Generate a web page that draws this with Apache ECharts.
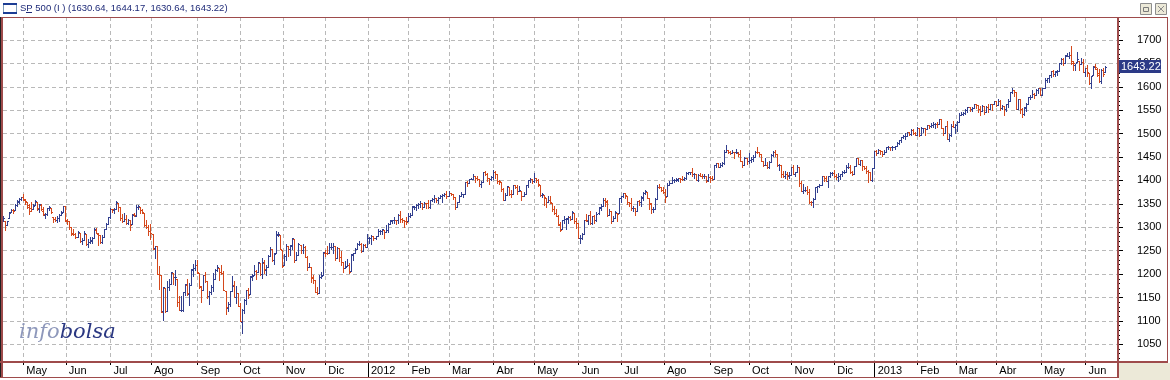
<!DOCTYPE html>
<html><head><meta charset="utf-8">
<script src="https://cdn.jsdelivr.net/npm/echarts/dist/echarts.min.js"></script>
<style>html,body{margin:0;padding:0;background:#fff;overflow:hidden}#c{width:1170px;height:380px}</style>
</head><body><div id="c"></div>
<script>
// ---- DATA: daily bars [open, high, low, close], one array per month ----
const m1104=[[1314,1323,1314,1320],[1313,1313,1295,1305],[1305,1313,1304,1313],[1319,1333,1319,1330],[1333,1338,1332,1337],[1337,1338,1331,1335],[1336,1349,1336,1347],[1348,1358,1345,1356],[1354,1362,1351,1360],[1360,1365,1359,1364]];
const m1105=[[1365,1371,1358,1361],[1359,1360,1349,1357],[1355,1355,1341,1347],[1344,1349,1329,1335],[1341,1354,1334,1340],[1340,1349,1338,1346],[1348,1359,1348,1357],[1355,1355,1336,1342],[1339,1349,1333,1349],[1347,1350,1336,1338],[1335,1343,1327,1329],[1326,1330,1319,1329],[1328,1342,1327,1341],[1342,1346,1337,1344],[1342,1342,1330,1333],[1321,1321,1312,1317],[1318,1321,1314,1316],[1315,1325,1311,1320],[1320,1328,1314,1326],[1326,1335,1326,1331],[1332,1346,1332,1345]];
const m1106=[[1345,1345,1313,1315],[1314,1318,1306,1313],[1313,1313,1297,1300],[1300,1300,1284,1286],[1287,1297,1284,1285],[1285,1288,1277,1280],[1280,1293,1280,1289],[1288,1288,1268,1271],[1271,1277,1265,1272],[1273,1292,1273,1288],[1286,1286,1262,1265],[1265,1274,1258,1268],[1269,1280,1267,1272],[1271,1280,1267,1278],[1278,1298,1278,1296],[1295,1299,1287,1287],[1286,1287,1262,1284],[1283,1284,1267,1268],[1268,1284,1267,1280],[1280,1297,1280,1297],[1297,1310,1297,1307],[1308,1322,1308,1321]];
const m1107=[[1321,1341,1319,1340],[1340,1340,1333,1338],[1337,1341,1331,1339],[1340,1356,1340,1353],[1352,1352,1334,1344],[1343,1343,1316,1319],[1319,1328,1312,1314],[1314,1331,1314,1318],[1318,1327,1306,1309],[1309,1318,1307,1316],[1315,1316,1295,1305],[1307,1328,1307,1327],[1328,1330,1324,1326],[1325,1347,1324,1344],[1344,1347,1338,1345],[1344,1344,1331,1337],[1337,1338,1331,1332],[1331,1331,1303,1305],[1305,1316,1299,1301],[1300,1304,1283,1292]];
const m1108=[[1292,1308,1275,1287],[1286,1286,1254,1254],[1255,1261,1235,1260],[1260,1260,1200,1200],[1201,1218,1168,1199],[1199,1199,1119,1119],[1121,1173,1102,1173],[1171,1171,1118,1121],[1121,1186,1121,1173],[1173,1190,1165,1179],[1179,1205,1179,1204],[1202,1202,1178,1193],[1193,1209,1177,1194],[1190,1190,1131,1141],[1140,1154,1123,1124],[1124,1154,1121,1124],[1124,1162,1121,1162],[1162,1178,1156,1178],[1177,1190,1155,1159],[1158,1182,1135,1177],[1177,1210,1177,1210],[1209,1221,1195,1213],[1213,1230,1209,1219]];
const m1109=[[1219,1230,1203,1204],[1203,1203,1171,1174],[1173,1174,1140,1165],[1166,1199,1166,1199],[1198,1204,1184,1186],[1185,1185,1148,1154],[1153,1163,1137,1162],[1162,1177,1158,1173],[1173,1203,1163,1189],[1189,1210,1189,1209],[1209,1220,1207,1216],[1214,1214,1188,1204],[1204,1220,1201,1202],[1203,1207,1166,1167],[1164,1164,1114,1130],[1128,1141,1121,1136],[1137,1163,1131,1163],[1164,1195,1164,1175],[1176,1185,1150,1151],[1152,1175,1139,1160],[1159,1159,1131,1131]];
const m1110=[[1131,1138,1099,1099],[1097,1125,1075,1124],[1124,1146,1116,1144],[1144,1165,1136,1165],[1166,1171,1149,1155],[1158,1195,1158,1195],[1194,1200,1187,1196],[1197,1220,1197,1207],[1206,1208,1190,1204],[1205,1225,1205,1225],[1224,1224,1198,1201],[1200,1234,1191,1225],[1223,1230,1203,1210],[1209,1219,1197,1215],[1215,1240,1215,1238],[1238,1257,1238,1254],[1254,1254,1227,1229],[1230,1246,1221,1242],[1244,1293,1244,1285],[1284,1290,1281,1285],[1284,1284,1253,1253]];
const m1111=[[1251,1251,1215,1218],[1219,1242,1219,1238],[1238,1264,1229,1261],[1260,1260,1238,1253],[1253,1262,1240,1261],[1262,1277,1254,1276],[1275,1275,1226,1229],[1230,1247,1230,1240],[1240,1266,1240,1264],[1263,1263,1246,1252],[1251,1264,1244,1258],[1257,1259,1236,1237],[1236,1238,1209,1216],[1216,1224,1215,1216],[1216,1216,1183,1193],[1192,1197,1181,1188],[1188,1188,1161,1162],[1162,1172,1158,1159],[1159,1197,1159,1193],[1193,1204,1191,1195],[1197,1247,1197,1247]];
const m1112=[[1246,1251,1239,1245],[1246,1261,1243,1244],[1245,1266,1245,1257],[1258,1266,1254,1258],[1257,1267,1244,1261],[1260,1260,1231,1234],[1235,1258,1235,1255],[1255,1255,1227,1236],[1237,1250,1219,1226],[1226,1226,1205,1212],[1213,1227,1212,1216],[1217,1232,1217,1220],[1220,1224,1203,1205],[1206,1242,1206,1241],[1242,1245,1229,1244],[1244,1255,1244,1254],[1254,1266,1254,1265],[1265,1270,1262,1265],[1265,1266,1248,1250],[1250,1264,1250,1263],[1263,1264,1257,1258]];
const m1201=[[1258,1285,1258,1277],[1277,1279,1266,1277],[1277,1284,1265,1281],[1281,1282,1273,1278],[1278,1282,1275,1281],[1281,1297,1281,1292],[1292,1294,1285,1292],[1292,1297,1286,1296],[1295,1295,1278,1289],[1290,1304,1290,1294],[1294,1309,1290,1308],[1308,1316,1308,1315],[1314,1315,1310,1315],[1315,1322,1309,1316],[1316,1316,1306,1315],[1315,1329,1310,1326],[1327,1334,1312,1318],[1318,1320,1311,1316],[1316,1316,1301,1313],[1314,1322,1306,1312]];
const m1202=[[1313,1330,1313,1324],[1324,1330,1321,1326],[1326,1346,1326,1345],[1344,1345,1338,1344],[1344,1350,1336,1347],[1347,1351,1341,1350],[1350,1356,1344,1352],[1352,1352,1338,1343],[1343,1353,1343,1352],[1352,1352,1341,1351],[1351,1359,1341,1343],[1343,1359,1341,1358],[1358,1363,1357,1361],[1361,1368,1355,1362],[1362,1362,1355,1358],[1358,1364,1352,1363],[1363,1368,1363,1366],[1366,1371,1355,1368],[1368,1373,1366,1372],[1372,1378,1363,1366]];
const m1203=[[1366,1377,1366,1374],[1374,1374,1368,1370],[1370,1370,1360,1364],[1364,1364,1340,1343],[1343,1354,1343,1353],[1353,1368,1353,1366],[1366,1375,1366,1371],[1371,1372,1365,1371],[1371,1396,1371,1396],[1396,1399,1389,1394],[1394,1403,1394,1403],[1403,1406,1403,1404],[1404,1414,1403,1410],[1410,1410,1397,1406],[1406,1409,1402,1403],[1403,1403,1389,1393],[1393,1399,1386,1397],[1397,1417,1397,1417],[1417,1420,1411,1413],[1413,1415,1399,1406],[1405,1405,1392,1403],[1404,1410,1401,1408]];
const m1204=[[1408,1422,1404,1419],[1419,1420,1405,1413],[1413,1413,1394,1399],[1399,1401,1393,1398],[1397,1397,1378,1382],[1382,1384,1358,1359],[1359,1374,1359,1369],[1369,1388,1369,1388],[1387,1387,1369,1370],[1371,1380,1365,1370],[1370,1391,1370,1391],[1390,1390,1383,1385],[1385,1390,1370,1377],[1377,1388,1377,1379],[1378,1378,1358,1367],[1367,1375,1367,1372],[1372,1391,1372,1391],[1391,1402,1387,1400],[1400,1406,1397,1403],[1403,1403,1394,1398]];
const m1205=[[1398,1415,1396,1406],[1406,1406,1397,1402],[1402,1404,1388,1392],[1391,1391,1367,1369],[1368,1373,1364,1370],[1369,1369,1348,1364],[1363,1363,1343,1355],[1355,1366,1353,1358],[1358,1366,1352,1353],[1352,1352,1335,1338],[1338,1345,1328,1331],[1331,1339,1324,1325],[1325,1326,1305,1305],[1306,1312,1291,1295],[1296,1316,1296,1316],[1316,1325,1310,1317],[1317,1320,1296,1319],[1318,1325,1310,1321],[1321,1325,1315,1318],[1318,1335,1318,1332],[1331,1331,1310,1313],[1313,1319,1299,1310]];
const m1206=[[1310,1310,1277,1278],[1278,1283,1267,1278],[1278,1287,1275,1286],[1286,1315,1286,1315],[1316,1329,1314,1315],[1314,1326,1307,1326],[1326,1335,1307,1309],[1309,1325,1306,1324],[1324,1327,1309,1315],[1315,1333,1313,1329],[1330,1344,1329,1343],[1342,1349,1336,1345],[1345,1363,1345,1358],[1358,1362,1345,1356],[1355,1358,1324,1326],[1326,1338,1326,1335],[1334,1334,1309,1314],[1314,1325,1314,1320],[1320,1334,1320,1332],[1331,1331,1314,1329],[1330,1362,1330,1362]];
const m1207=[[1362,1366,1355,1366],[1366,1374,1364,1374],[1374,1374,1363,1368],[1367,1367,1349,1355],[1355,1355,1346,1352],[1352,1362,1337,1341],[1341,1345,1334,1341],[1341,1341,1326,1335],[1335,1357,1335,1357],[1356,1358,1348,1354],[1354,1366,1345,1364],[1363,1375,1358,1373],[1373,1380,1371,1377],[1376,1376,1362,1363],[1362,1362,1338,1351],[1350,1351,1330,1338],[1338,1344,1333,1338],[1338,1363,1338,1360],[1360,1390,1360,1386],[1386,1392,1384,1385],[1385,1387,1378,1379]];
const m1208=[[1380,1385,1373,1375],[1375,1382,1354,1365],[1366,1395,1366,1391],[1391,1399,1391,1394],[1395,1407,1395,1401],[1401,1404,1397,1402],[1402,1405,1399,1403],[1402,1406,1398,1406],[1405,1405,1397,1404],[1404,1410,1401,1403],[1404,1407,1401,1406],[1406,1417,1403,1416],[1416,1419,1414,1418],[1418,1418,1413,1418],[1418,1427,1410,1413],[1413,1416,1406,1413],[1413,1413,1400,1402],[1402,1413,1398,1411],[1411,1416,1409,1410],[1410,1413,1406,1409],[1409,1414,1406,1410],[1410,1410,1397,1399],[1401,1414,1398,1407]];
const m1209=[[1407,1409,1396,1405],[1405,1409,1401,1403],[1404,1433,1404,1432],[1432,1438,1429,1438],[1438,1438,1428,1429],[1429,1438,1429,1434],[1434,1439,1431,1437],[1437,1464,1435,1460],[1460,1475,1460,1466],[1466,1466,1458,1461],[1461,1462,1456,1459],[1459,1465,1458,1461],[1461,1461,1449,1460],[1460,1467,1459,1460],[1459,1460,1452,1457],[1457,1466,1441,1442],[1442,1442,1428,1433],[1433,1450,1433,1447],[1447,1447,1435,1441]];
const m1210=[[1441,1458,1438,1444],[1444,1451,1439,1446],[1446,1455,1442,1451],[1451,1462,1451,1461],[1461,1471,1458,1460],[1461,1461,1453,1456],[1456,1456,1441,1441],[1441,1442,1431,1433],[1433,1448,1432,1433],[1433,1439,1426,1429],[1429,1441,1427,1440],[1440,1456,1440,1455],[1455,1462,1453,1461],[1460,1464,1452,1457],[1457,1457,1430,1433],[1433,1435,1423,1434],[1433,1433,1407,1413],[1413,1420,1407,1409],[1409,1421,1405,1413],[1413,1418,1403,1412],[1410,1418,1406,1412]];
const m1211=[[1412,1428,1412,1428],[1428,1434,1413,1414],[1414,1419,1409,1417],[1418,1434,1418,1428],[1428,1428,1388,1395],[1395,1399,1377,1378],[1378,1392,1373,1380],[1380,1385,1377,1380],[1380,1388,1370,1375],[1375,1381,1352,1355],[1355,1357,1348,1353],[1353,1362,1343,1360],[1360,1387,1360,1387],[1387,1389,1375,1388],[1388,1392,1387,1391],[1391,1409,1391,1409],[1409,1409,1398,1406],[1406,1410,1398,1399],[1399,1410,1385,1410],[1410,1419,1408,1416],[1416,1418,1411,1416]];
const m1212=[[1416,1423,1408,1409],[1409,1413,1403,1407],[1407,1415,1398,1409],[1409,1414,1404,1414],[1414,1420,1410,1418],[1418,1422,1415,1419],[1419,1434,1419,1428],[1428,1438,1426,1428],[1428,1432,1416,1419],[1419,1420,1411,1414],[1414,1431,1414,1430],[1430,1448,1430,1447],[1447,1448,1435,1436],[1436,1444,1433,1444],[1443,1443,1422,1430],[1430,1430,1424,1427],[1427,1430,1416,1420],[1420,1422,1397,1418],[1418,1418,1401,1402],[1402,1427,1398,1426]];
const m1301=[[1426,1463,1426,1462],[1462,1465,1455,1459],[1459,1468,1459,1466],[1466,1466,1457,1462],[1462,1462,1452,1457],[1457,1465,1457,1461],[1461,1472,1461,1472],[1472,1473,1468,1472],[1472,1472,1466,1471],[1471,1473,1464,1472],[1472,1473,1468,1473],[1473,1483,1473,1481],[1481,1486,1477,1486],[1486,1493,1482,1493],[1493,1496,1490,1495],[1495,1502,1489,1495],[1495,1503,1495,1503],[1503,1504,1496,1500],[1500,1509,1498,1508],[1508,1509,1499,1502],[1502,1504,1497,1498]];
const m1302=[[1498,1514,1498,1513],[1513,1513,1495,1496],[1496,1514,1496,1511],[1511,1513,1504,1512],[1512,1512,1498,1509],[1509,1519,1509,1518],[1518,1518,1513,1517],[1517,1522,1515,1519],[1519,1524,1514,1520],[1520,1523,1513,1521],[1521,1525,1514,1520],[1520,1531,1520,1531],[1531,1531,1512,1512],[1512,1512,1498,1502],[1502,1516,1502,1516],[1516,1526,1488,1488],[1488,1499,1485,1497],[1497,1520,1494,1516],[1516,1526,1514,1515]];
const m1303=[[1515,1520,1502,1518],[1518,1526,1506,1525],[1525,1543,1525,1540],[1540,1546,1540,1541],[1541,1546,1539,1544],[1544,1553,1542,1551],[1551,1556,1547,1556],[1556,1556,1548,1552],[1552,1557,1548,1555],[1555,1564,1555,1563],[1563,1563,1555,1561],[1561,1561,1546,1552],[1552,1558,1539,1548],[1548,1561,1548,1559],[1559,1559,1542,1546],[1546,1558,1546,1557],[1557,1564,1546,1552],[1552,1564,1552,1564],[1564,1564,1551,1563],[1563,1570,1563,1569]];
const m1304=[[1569,1570,1558,1562],[1562,1573,1562,1570],[1570,1571,1550,1554],[1554,1562,1552,1560],[1560,1560,1539,1553],[1553,1563,1548,1563],[1563,1573,1557,1569],[1569,1589,1569,1588],[1588,1598,1586,1593],[1593,1593,1580,1589],[1589,1589,1552,1552],[1553,1575,1553,1575],[1574,1574,1543,1552],[1552,1555,1536,1542],[1542,1556,1539,1555],[1556,1565,1549,1563],[1563,1579,1563,1579],[1579,1583,1575,1579],[1579,1593,1579,1585],[1585,1586,1577,1582],[1582,1596,1582,1594],[1594,1598,1587,1598]];
const m1305=[[1598,1598,1582,1583],[1583,1598,1583,1598],[1598,1619,1598,1614],[1614,1619,1611,1618],[1618,1626,1611,1626],[1626,1633,1622,1633],[1633,1635,1623,1627],[1627,1634,1624,1634],[1632,1636,1626,1634],[1634,1651,1634,1650],[1650,1661,1648,1659],[1659,1661,1647,1650],[1651,1667,1651,1667],[1666,1672,1666,1666],[1666,1675,1662,1669],[1669,1687,1648,1655],[1651,1655,1636,1650],[1646,1649,1636,1650],[1652,1674,1652,1660],[1656,1656,1636,1648],[1649,1662,1649,1654],[1652,1659,1631,1631]];
const m1306=[[1632,1640,1623,1640],[1641,1647,1624,1631],[1629,1629,1606,1609],[1609,1623,1598,1623],[1625,1644,1625,1643],[1645,1649,1639,1643],[1639,1640,1623,1626],[1630,1638,1611,1613],[1612,1639,1608,1636],[1636,1641,1624,1627],[1630.64,1644.17,1630.64,1643.22]];

const monthBars=[m1104,m1105,m1106,m1107,m1108,m1109,m1110,m1111,m1112,m1201,m1202,m1203,m1204,m1205,m1206,m1207,m1208,m1209,m1210,m1211,m1212,m1301,m1302,m1303,m1304,m1305,m1306];
const monthLabels=['','May','Jun','Jul','Ago','Sep','Oct','Nov','Dic','2012','Feb','Mar','Abr','May','Jun','Jul','Ago','Sep','Oct','Nov','Dic','2013','Feb','Mar','Abr','May','Jun'];
const yearLabels=['2012','2013'];
const symbolName='SP 500 (I )';
const padBars=6;

// ---- layout / style ----
const Y_MIN=1012.2, Y_MAX=1749.1;
const UP='#323f8e', DOWN='#d4481c', FRAME='#9e4b4b', GRIDC='#b9b9b9';

const cats=[], bars=[], tickSet=new Set(), yearSet=new Set();
monthBars.forEach((m,k)=>{
  m.forEach((b,j)=>{
    const i=bars.length;
    const lab=j===0?monthLabels[k]:'';
    cats.push(lab);
    if(lab){tickSet.add(i); if(yearLabels.includes(lab)) yearSet.add(i);}
    bars.push([i,b[0],b[1],b[2],b[3]]);
  });
});
for(let p=0;p<padBars;p++) cats.push('');
const last=bars[bars.length-1];

function renderItem(params, api){
  const i=api.value(0), o=api.value(1), h=api.value(2), l=api.value(3), c=api.value(4);
  const pH=api.coord([i,h]), pL=api.coord([i,l]);
  const yO=Math.round(api.coord([i,o])[1]), yC=Math.round(api.coord([i,c])[1]);
  const x=Math.floor(pH[0]);
  const top=Math.round(pH[1]), bot=Math.round(pL[1]);
  const col=c>=o?UP:DOWN;
  return {type:'group',children:[
    {type:'rect',shape:{x:x,y:top,width:1,height:Math.max(1,bot-top+1)},style:{fill:col}},
    {type:'rect',shape:{x:x-1,y:yO,width:1,height:1},style:{fill:col}},
    {type:'rect',shape:{x:x+1,y:yC,width:1,height:1},style:{fill:col}}
  ]};
}

const chart=echarts.init(document.getElementById('c'),null,{renderer:'canvas'});
const F='"Liberation Sans", Arial, sans-serif';
chart.setOption({
  animation:false,
  backgroundColor:'#ffffff',
  grid:{left:3,right:52,top:17,bottom:18},
  xAxis:[{
    type:'category',data:cats,boundaryGap:false,
    axisLine:{show:false},
    axisTick:{show:true,interval:(i)=>tickSet.has(i),length:3,lineStyle:{color:'#000'}},
    axisLabel:{show:true,interval:(i)=>tickSet.has(i),align:'left',padding:[0,0,0,3],margin:3,color:'#000',fontFamily:F,fontSize:11},
    splitLine:{show:true,interval:(i)=>tickSet.has(i),lineStyle:{color:GRIDC,type:[4,3],width:1}}
  },{
    type:'category',data:cats,boundaryGap:false,position:'bottom',
    axisLine:{show:false},
    axisTick:{show:true,interval:(i)=>yearSet.has(i),length:15,lineStyle:{color:'#000'}},
    axisLabel:{show:false},splitLine:{show:false}
  }],
  yAxis:{
    type:'value',position:'right',min:Y_MIN,max:Y_MAX,minInterval:50,maxInterval:50,splitNumber:15,scale:true,
    axisLine:{show:false},
    axisTick:{show:true,length:5,lineStyle:{color:'#000'}},
    minorTick:{show:true,splitNumber:5,length:2,lineStyle:{color:'#000'}},
    axisLabel:{margin:19,color:'#000',fontFamily:F,fontSize:11,showMinLabel:false,showMaxLabel:false,formatter:(v)=>String(Math.round(v))},
    splitLine:{show:true,lineStyle:{color:GRIDC,type:[4,3],width:1}}
  },
  series:[{type:'custom',name:'SP 500',renderItem:renderItem,data:bars,encode:{x:0,y:[1,2,3,4]},xAxisIndex:0,yAxisIndex:0,clip:false}]
});

const yLast=chart.convertToPixel({yAxisIndex:0},last[4]);
const fmt=v=>v.toFixed(2);
const header=symbolName+' ('+fmt(last[1])+', '+fmt(last[2])+', '+fmt(last[3])+', '+fmt(last[4])+')';
const Z=100;
chart.setOption({graphic:[
  // header icon
  {type:'rect',z:Z,shape:{x:3.5,y:3.5,width:13,height:10},style:{fill:'#fff',stroke:'#7f9db9',lineWidth:1}},
  {type:'rect',z:Z,shape:{x:3,y:3,width:14,height:2},style:{fill:'#1c3d94'}},
  {type:'rect',z:Z,shape:{x:3,y:12,width:14,height:2},style:{fill:'#1c3d94'}},
  {type:'text',z:Z,x:20,y:3,style:{text:header,fill:'#1e2a78',font:'9.5px '+F,textVerticalAlign:'top'}},
  {type:'rect',z:Z,shape:{x:26,y:12,width:6,height:1},style:{fill:'#1e2a78'}},
  // window buttons
  {type:'rect',z:Z,shape:{x:1140.5,y:3.5,width:11,height:11},style:{fill:'#ece9d8',stroke:'#8d8d8d',lineWidth:1}},
  {type:'rect',z:Z,shape:{x:1143.5,y:7.5,width:5,height:4},style:{fill:'none',stroke:'#7a7a7a',lineWidth:1}},
  {type:'rect',z:Z,shape:{x:1155.5,y:3.5,width:11,height:11},style:{fill:'#ece9d8',stroke:'#8d8d8d',lineWidth:1}},
  {type:'line',z:Z,shape:{x1:1158,y1:6,x2:1164,y2:12},style:{stroke:'#8a8a8a',lineWidth:1}},
  {type:'line',z:Z,shape:{x1:1164,y1:6,x2:1158,y2:12},style:{stroke:'#8a8a8a',lineWidth:1}},
  // frame
  {type:'rect',z:Z,shape:{x:2,y:17,width:1166,height:1},style:{fill:FRAME}},
  {type:'rect',z:Z,shape:{x:0,y:17,width:1,height:361},style:{fill:'#202020'}},
  {type:'rect',z:Z,shape:{x:1,y:17,width:2,height:361},style:{fill:FRAME}},
  {type:'rect',z:Z,shape:{x:1117,y:17,width:2,height:361},style:{fill:FRAME}},
  {type:'rect',z:Z,shape:{x:1167,y:17,width:1,height:346},style:{fill:FRAME}},
  {type:'rect',z:Z,shape:{x:0,y:361,width:1168,height:2},style:{fill:FRAME}},
  {type:'rect',z:Z,shape:{x:0,y:377,width:1119,height:1},style:{fill:FRAME}},
  {type:'rect',z:Z,shape:{x:1119,y:363,width:51,height:17},style:{fill:'#ece9d8'}},
  // last value tag
  {type:'rect',z:Z,shape:{x:1119,y:Math.round(yLast)-7,width:42,height:13},style:{fill:'#2c3a87'}},
  {type:'text',z:Z+1,x:1121,y:Math.round(yLast),style:{text:fmt(last[4]),fill:'#fff',font:'11px '+F,textVerticalAlign:'middle'}},
  // logo
  {type:'text',z:Z,x:19,y:343,style:{text:'{a|info}{b|bolsa}',textVerticalAlign:'bottom',rich:{
    a:{fill:'#8e98bb',fontFamily:'"DejaVu Serif", serif',fontStyle:'italic',fontSize:21},
    b:{fill:'#2b3882',fontFamily:'"DejaVu Serif", serif',fontStyle:'italic',fontSize:21}}}}
]});
</script>
</body></html>
